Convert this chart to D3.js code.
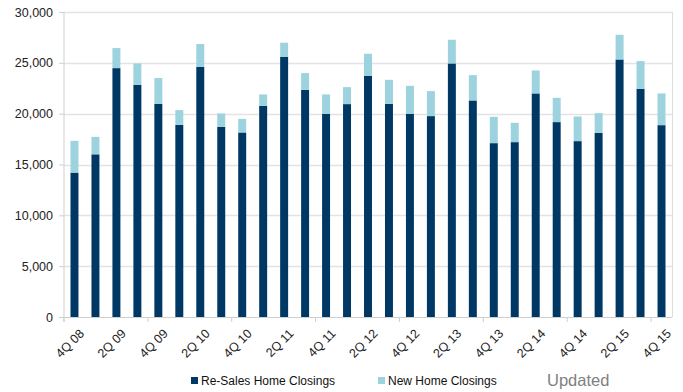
<!DOCTYPE html>
<html>
<head>
<meta charset="utf-8">
<script src="https://cdn.jsdelivr.net/npm/d3@7"></script>
<style>
  html, body { margin: 0; padding: 0; background: #fff; }
  svg { display: block; font-family: "Liberation Sans", Arial, sans-serif; }
</style>
</head>
<body>
<svg id="chart" width="683" height="392"></svg>
<script>
// Quarterly home closings
const quarters = ["4Q 08","1Q 09","2Q 09","3Q 09","4Q 09","1Q 10","2Q 10","3Q 10","4Q 10",
  "1Q 11","2Q 11","3Q 11","4Q 11","1Q 12","2Q 12","3Q 12","4Q 12","1Q 13","2Q 13","3Q 13",
  "4Q 13","1Q 14","2Q 14","3Q 14","4Q 14","1Q 15","2Q 15","3Q 15","4Q 15"];
const resales = [14200, 16000, 24480, 22840, 20970, 18900, 24610, 18700, 18150, 20770, 25600,
  22350, 19990, 20940, 23730, 20970, 19990, 19760, 24940, 21300, 17100, 17200, 21990, 19170,
  17300, 18110, 25330, 22450, 18870];
const newHomes = [3130, 1720, 1970, 2100, 2530, 1450, 2240, 1320, 1340, 1120, 1380, 1640, 1900,
  1670, 2160, 2360, 2750, 2460, 2330, 2490, 2590, 1900, 2260, 2390, 2420, 1940, 2430, 2720, 3120];
const yTicks = [0, 5000, 10000, 15000, 20000, 25000, 30000];
const seriesNames = ["Re-Sales Home Closings", "New Home Closings"];
const seriesColors = ["#003865", "#9dd2df"];

const svg = d3.select("#chart");
const plotLeft = 64, plotRight = 672, plotTop = 12, plotBottom = 317;

const x = d3.scaleBand().domain(quarters).range([plotLeft, plotRight]).paddingInner(0.62).paddingOuter(0.31);
const y = d3.scaleLinear().domain([0, 30000]).range([plotBottom, plotTop]);

// gridlines
svg.append("g").selectAll("line").data(yTicks.slice(1)).join("line")
  .attr("x1", plotLeft).attr("x2", plotRight)
  .attr("y1", d => Math.round(y(d)) + 0.5).attr("y2", d => Math.round(y(d)) + 0.5)
  .attr("stroke", "#e3e3e3").attr("stroke-width", 1.3);
// right border of plot
svg.append("line").attr("x1", plotRight + 0.5).attr("x2", plotRight + 0.5).attr("y1", plotTop).attr("y2", plotBottom)
  .attr("stroke", "#dddddd");

// stacked bars
const rows = quarters.map((q, i) => ({ q, resales: resales[i], newHomes: newHomes[i] }));
const stack = d3.stack().keys(["resales", "newHomes"])(rows);
svg.append("g").selectAll("g").data(stack).join("g")
  .attr("fill", (d, i) => seriesColors[i])
  .selectAll("rect").data(d => d).join("rect")
  .attr("x", d => x(d.data.q))
  .attr("width", x.bandwidth())
  .attr("y", d => y(d[1]))
  .attr("height", d => y(d[0]) - y(d[1]));

// y axis
const yAxis = d3.axisLeft(y).tickValues(yTicks).tickFormat(d3.format(",")).tickSize(5).tickPadding(6);
const gy = svg.append("g").attr("transform", `translate(${plotLeft},0)`).call(yAxis);
gy.select(".domain").attr("stroke", "#cfcfcf").attr("d", `M0,${plotTop}V${plotBottom + 5}`);
gy.selectAll(".tick line").attr("stroke", "#cfcfcf");
gy.selectAll(".tick text").attr("fill", "#222").style("font-size", "12.5px")
  .style("font-family", "Liberation Sans, Arial, sans-serif");

// x axis: ticks every four quarters, labels every two
const xAxis = d3.axisBottom(x).tickSize(0).tickFormat((d, i) => i % 2 === 0 ? d : "");
const gx = svg.append("g").attr("transform", `translate(0,${plotBottom})`).call(xAxis);
gx.select(".domain").attr("stroke", "#cfcfcf").attr("d", `M${plotLeft},0.5H${plotRight}`);
gx.selectAll(".tick text")
  .attr("fill", "#222").style("font-size", "12.5px")
  .style("font-family", "Liberation Sans, Arial, sans-serif")
  .attr("text-anchor", "end")
  .attr("transform", "translate(4,11) rotate(-45)")
  .attr("dy", "0.72em").attr("y", 0).attr("x", 0);
const step = x.step();
gx.append("g").selectAll("line").data(d3.range(0, quarters.length + 1, 4)).join("line")
  .attr("x1", d => plotLeft + d * step).attr("x2", d => plotLeft + d * step)
  .attr("y1", 0).attr("y2", 5).attr("stroke", "#cfcfcf");

// legend
const legend = svg.append("g").style("font-size", "12px");
const legendItems = [{ x: 191, name: seriesNames[0], color: seriesColors[0] },
                     { x: 378, name: seriesNames[1], color: seriesColors[1] }];
legendItems.forEach(it => {
  legend.append("rect").attr("x", it.x).attr("y", 377).attr("width", 7).attr("height", 7).attr("fill", it.color);
  legend.append("text").attr("x", it.x + 10).attr("y", 385).attr("fill", "#111").text(it.name);
});
svg.append("text").attr("x", 547).attr("y", 386).attr("fill", "#808080")
  .style("font-size", "16.5px").text("Updated");
</script>
</body>
</html>
